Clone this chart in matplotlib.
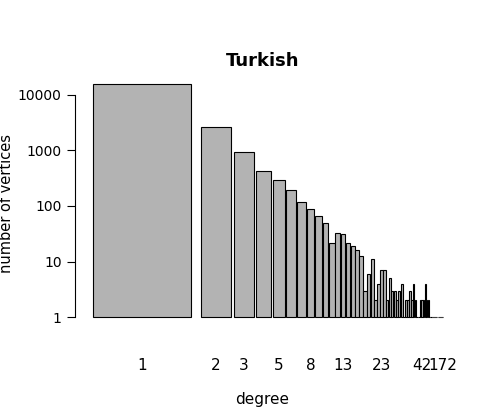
import numpy as np
import matplotlib.pyplot as plt

degrees = list(range(1, 46)) + [47, 48, 50, 52, 55, 58, 61, 65, 70, 75, 82, 90, 100, 115, 135, 172]
counts = [15500, 2630, 920, 420, 295, 190, 116, 89, 66, 50,
          22, 33, 31, 22, 19, 16, 12.6, 3, 6, 11,
          2, 4, 7, 7, 2, 5, 3, 3, 2, 3,
          4, 1, 2, 2, 3, 2, 4, 2, 1, 1,
          2, 2, 2, 4, 2] + [2, 1, 1, 1, 1, 1, 1, 1, 1, 1, 1, 1, 1, 1, 1, 1]
tick_degrees = [1, 2, 3, 5, 8, 13, 23, 42, 172]

deg = np.array(degrees, dtype=float)
widths = 1.0 / deg
widths[0] = 3.33 * widths[1]
gaps = 0.14 * (widths[:-1] + widths[1:]) / 2
gaps[0] = 10 / 60
lefts = np.concatenate([[0], np.cumsum(widths[:-1] + gaps)])
centers = lefts + widths / 2
end = lefts[-1] + widths[-1]

fig = plt.figure(figsize=(4.98, 4.18), dpi=100)
ax = fig.add_axes([75 / 498, 91 / 418, 375 / 498, 247 / 418])
ax.bar(lefts, np.array(counts) - 1, width=widths, bottom=1, align="edge",
       color="#b3b3b3", edgecolor="black", linewidth=0.8)
ax.set_yscale("log")
ax.set_ylim(10 ** (-10 / 57), 10 ** (4 + 15 / 57))
scale = (443 - 93) / end
ax.set_xlim(-18 / scale, end + 7 / scale)

ax.set_yticks([1, 10, 100, 1000, 10000])
ax.set_yticklabels(["1", "10", "100", "1000", "10000"])
ax.yaxis.set_minor_locator(plt.NullLocator())
idx = [degrees.index(d) for d in tick_degrees]
ax.set_xticks(centers[idx])
ax.set_xticklabels([str(d) for d in tick_degrees])
ax.tick_params(axis="x", length=0, pad=22, labelsize=11)
ax.tick_params(axis="y", length=6, labelsize=10)
for s in ["top", "right", "bottom"]:
    ax.spines[s].set_visible(False)
ax.spines["left"].set_bounds(1, 10000)
ax.set_xlabel("degree", fontsize=11, labelpad=14)
ax.set_ylabel("number of vertices", fontsize=10.5, labelpad=3)
ax.set_title("Turkish", fontsize=13, fontweight="bold", pad=10)
fig.savefig("out.png", dpi=100)
